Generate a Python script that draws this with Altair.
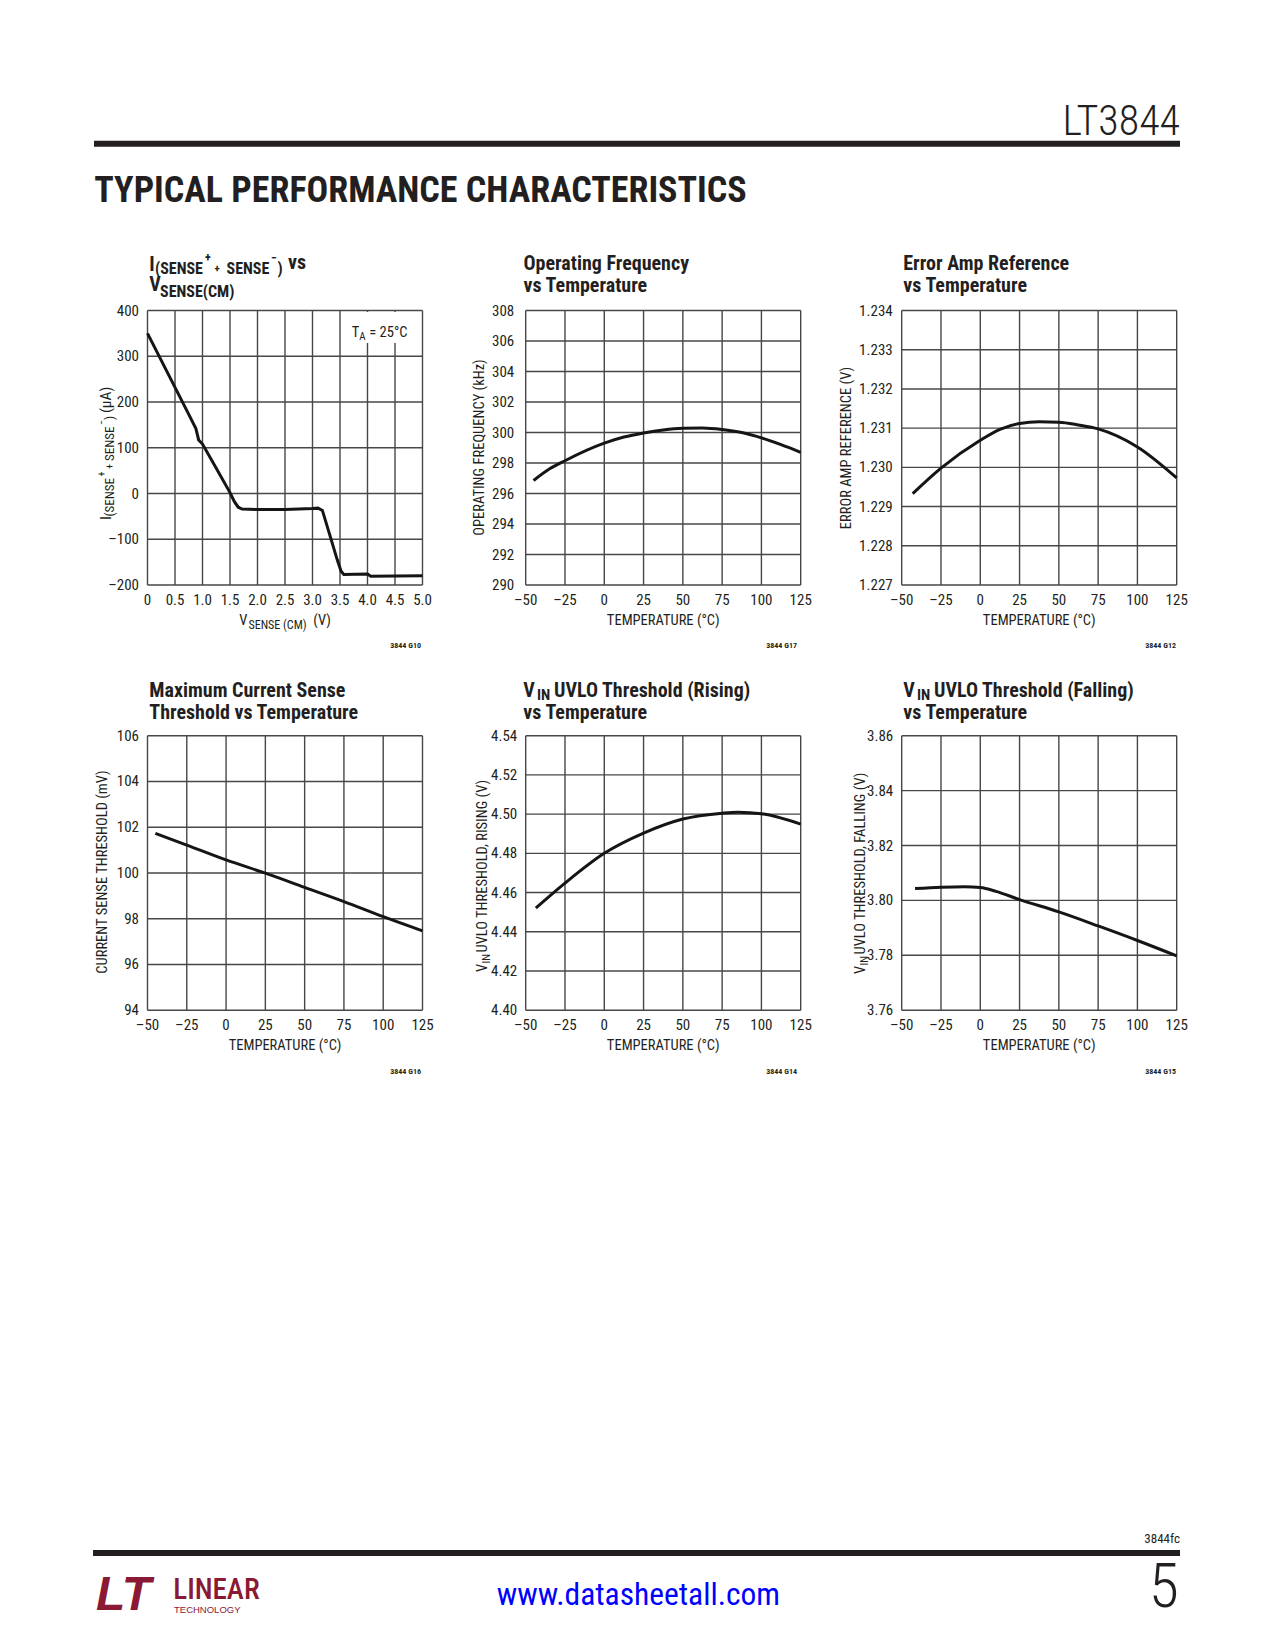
import altair as alt
import pandas as pd

FONT = "Roboto Condensed, Liberation Sans, sans-serif"
WIDE = "Liberation Sans, Arial, sans-serif"
INK = "#231f20"
GRID = "#474747"
CURVE = "#151515"
LOGO = "#8a1a33"
OFF = 8

# ---------------- data ----------------
SENSE_V = [0, 0.25, 0.5, 0.75, 0.88, 0.93, 1.0, 1.25, 1.5, 1.58, 1.65, 1.72, 2.0, 2.5, 3.0, 3.1, 3.18, 3.3, 3.45, 3.52, 3.57, 4.0, 4.06, 5.0]
SENSE_I = [350, 291, 232, 173, 142, 117, 108, 55, 2, -18, -30, -34, -35, -35, -33, -32, -37, -85, -145, -170, -177, -176, -181, -180]
SENSE_X_TICKS = [0, 0.5, 1.0, 1.5, 2.0, 2.5, 3.0, 3.5, 4.0, 4.5, 5.0]
SENSE_X_LABELS = ["0", "0.5", "1.0", "1.5", "2.0", "2.5", "3.0", "3.5", "4.0", "4.5", "5.0"]
SENSE_Y_TICKS = [-200, -100, 0, 100, 200, 300, 400]
SENSE_Y_LABELS = ["\u2013200", "\u2013100", "0", "100", "200", "300", "400"]

TEMP_TICKS = [-50, -25, 0, 25, 50, 75, 100, 125]
TEMP_LABELS = ["\u201350", "\u201325", "0", "25", "50", "75", "100", "125"]

FREQ_T = [-45, -35, -25, 0, 12.5, 25, 37.5, 50, 62.5, 75, 87.5, 100, 112.5, 125]
FREQ_KHZ = [296.85, 297.6, 298.15, 299.3, 299.7, 299.97, 300.17, 300.28, 300.3, 300.2, 300.0, 299.65, 299.2, 298.7]
FREQ_TICKS = [290, 292, 294, 296, 298, 300, 302, 304, 306, 308]
FREQ_LABELS = ["290", "292", "294", "296", "298", "300", "302", "304", "306", "308"]

REF_T = [-43, -25, 0, 12.5, 25, 37.5, 50, 62.5, 75, 100, 125]
REF_V = [1.22933, 1.22998, 1.23069, 1.23097, 1.23112, 1.23116, 1.23115, 1.23108, 1.23098, 1.23052, 1.22973]
REF_TICKS = [1.227, 1.228, 1.229, 1.230, 1.231, 1.232, 1.233, 1.234]
REF_LABELS = ["1.227", "1.228", "1.229", "1.230", "1.231", "1.232", "1.233", "1.234"]

ILIM_T = [-45, -25, 0, 25, 50, 75, 100, 125]
ILIM_MV = [101.73, 101.22, 100.57, 99.99, 99.37, 98.75, 98.09, 97.47]
ILIM_TICKS = [94, 96, 98, 100, 102, 104, 106]
ILIM_LABELS = ["94", "96", "98", "100", "102", "104", "106"]

UVR_T = [-43.5, -25, 0, 25, 50, 75, 85, 100, 125]
UVR_V = [4.4521, 4.4648, 4.4800, 4.4903, 4.4975, 4.5005, 4.5010, 4.5002, 4.4949]
UVR_TICKS = [4.40, 4.42, 4.44, 4.46, 4.48, 4.50, 4.52, 4.54]
UVR_LABELS = ["4.40", "4.42", "4.44", "4.46", "4.48", "4.50", "4.52", "4.54"]

UVF_T = [-41.5, -25, -10, 0, 10, 25, 50, 75, 100, 125]
UVF_V = [3.8043, 3.8048, 3.8050, 3.8047, 3.8033, 3.8003, 3.7958, 3.7907, 3.7854, 3.7798]
UVF_TICKS = [3.76, 3.78, 3.80, 3.82, 3.84, 3.86]
UVF_LABELS = ["3.76", "3.78", "3.80", "3.82", "3.84", "3.86"]

ONE = pd.DataFrame({"k": [0]})
PW, PH = 275, 274.5


def txt(s, x, y, size=14.5, weight="normal", align="left", baseline="alphabetic",
        angle=0, color=INK, font=FONT, italic=False):
    kw = dict(text=s, font=font, fontSize=size, fontWeight=weight, align=align,
              baseline=baseline, angle=angle, color=color)
    if italic:
        kw["fontStyle"] = "italic"
    return alt.Chart(ONE).mark_text(**kw).encode(x=alt.value(x - OFF), y=alt.value(y - OFF))


def hrule(x1, x2, y, w, color=INK):
    return alt.Chart(ONE).mark_rule(color=color, strokeWidth=w).encode(
        x=alt.value(x1 - OFF), x2=alt.value(x2 - OFF), y=alt.value(y - OFF))


def panel(left, top, xdom, ydom, xticks, xlabels, yticks, ylabels, xs, ys, interp, ygap=8.8):
    L, T = left - OFF, top - OFF
    R, B = L + PW, T + PH
    xsc = alt.Scale(domain=xdom, range=[L, R], nice=False, zero=False)
    ysc = alt.Scale(domain=ydom, range=[B, T], nice=False, zero=False)
    vg = alt.Chart(pd.DataFrame({"v": xticks})).mark_rule(color=GRID, strokeWidth=1.4).encode(
        x=alt.X("v:Q", scale=xsc, axis=None), y=alt.value(T), y2=alt.value(B))
    hg = alt.Chart(pd.DataFrame({"v": yticks})).mark_rule(color=GRID, strokeWidth=1.4).encode(
        y=alt.Y("v:Q", scale=ysc, axis=None), x=alt.value(L), x2=alt.value(R))
    xl = alt.Chart(pd.DataFrame({"v": xticks, "t": xlabels})).mark_text(
        font=FONT, fontSize=15, align="center", baseline="middle", color=INK).encode(
        x=alt.X("v:Q", scale=xsc, axis=None), y=alt.value(B + 14.5), text="t:N")
    yl = alt.Chart(pd.DataFrame({"v": yticks, "t": ylabels})).mark_text(
        font=FONT, fontSize=15, align="right", baseline="middle", color=INK).encode(
        y=alt.Y("v:Q", scale=ysc, axis=None), x=alt.value(L - ygap), text="t:N")
    ln = alt.Chart(pd.DataFrame({"x": xs, "y": ys})).mark_line(
        color=CURVE, strokeWidth=3, interpolate=interp).encode(
        x=alt.X("x:Q", scale=xsc, axis=None), y=alt.Y("y:Q", scale=ysc, axis=None))
    return [vg, hg, xl, yl], ln


COLS = [147.5, 525.7, 901.7]
ROWS = [310.5, 735.7]

layers = []
curves = []

specs = [
    (COLS[0], ROWS[0], [0, 5], [-200, 400], SENSE_X_TICKS, SENSE_X_LABELS, SENSE_Y_TICKS, SENSE_Y_LABELS, SENSE_V, SENSE_I, "linear", 8.5),
    (COLS[1], ROWS[0], [-50, 125], [290, 308], TEMP_TICKS, TEMP_LABELS, FREQ_TICKS, FREQ_LABELS, FREQ_T, FREQ_KHZ, "monotone", 11.5),
    (COLS[2], ROWS[0], [-50, 125], [1.227, 1.234], TEMP_TICKS, TEMP_LABELS, REF_TICKS, REF_LABELS, REF_T, REF_V, "monotone", 9),
    (COLS[0], ROWS[1], [-50, 125], [94, 106], TEMP_TICKS, TEMP_LABELS, ILIM_TICKS, ILIM_LABELS, ILIM_T, ILIM_MV, "monotone", 8.5),
    (COLS[1], ROWS[1], [-50, 125], [4.40, 4.54], TEMP_TICKS, TEMP_LABELS, UVR_TICKS, UVR_LABELS, UVR_T, UVR_V, "monotone", 8.5),
    (COLS[2], ROWS[1], [-50, 125], [3.76, 3.86], TEMP_TICKS, TEMP_LABELS, UVF_TICKS, UVF_LABELS, UVF_T, UVF_V, "monotone", 8.5),
]
for sp in specs:
    base, ln = panel(*sp)
    layers += base
    curves.append(ln)

# white patch behind the T_A note (interrupts the grid as in the original)
box = alt.Chart(ONE).mark_rect(color="white").encode(
    x=alt.value(347 - OFF), x2=alt.value(411 - OFF), y=alt.value(312 - OFF), y2=alt.value(343 - OFF))
layers.append(box)
layers += curves

deco = [
    txt("LT3844", 1180, 135, size=42, weight=300, align="right"),
    hrule(94, 1180, 143.7, 6),
    txt("TYPICAL PERFORMANCE CHARACTERISTICS", 94.3, 202, size=36, weight="bold"),
]

TB = 20
deco += [
    txt("I", 149.3, 270.5, size=TB, weight="bold"),
    txt("(SENSE", 155, 273.5, size=16, weight="bold"),
    txt("+", 205, 262, size=12, weight="bold"),
    txt("+", 214.5, 272, size=11, weight="bold"),
    txt("SENSE", 226.5, 273.5, size=16, weight="bold"),
    txt("\u2212", 271, 262, size=12, weight="bold"),
    txt(")", 277.5, 273.5, size=16, weight="bold"),
    txt("vs", 288, 269, size=TB, weight="bold"),
    txt("V", 149.3, 290.5, size=TB, weight="bold"),
    txt("SENSE(CM)", 160, 296.5, size=16, weight="bold"),
    txt("T", 351.7, 336.7, size=14.5),
    txt("A", 359.3, 340, size=11),
    txt("= 25\u00b0C", 369.3, 336.7, size=14.5),
    txt("V", 239.3, 625, size=14.5),
    txt("SENSE (CM)", 248.5, 628.5, size=12),
    txt("(V)", 313.3, 625, size=14.5),
    txt("I", 110.5, 520, size=15.5, angle=270),
    txt("(SENSE", 113.5, 516.5, size=13, angle=270),
    txt("+", 105, 476.5, size=10, angle=270),
    txt("+", 112.5, 469, size=10, angle=270),
    txt("SENSE", 113.5, 461, size=13, angle=270),
    txt("\u2212", 105, 425, size=10, angle=270),
    txt(")", 113.5, 420, size=13, angle=270),
    txt("(\u00b5A)", 110.5, 413, size=15.5, angle=270),
    txt("3844 G10", 421, 648, size=8, weight="bold", align="right"),
]
deco += [
    txt("Operating Frequency", 523.5, 270, size=TB, weight="bold"),
    txt("vs Temperature", 523.5, 292, size=TB, weight="bold"),
    txt("TEMPERATURE (\u00b0C)", 663.2, 621, size=14.5, align="center", baseline="middle"),
    txt("OPERATING FREQUENCY (kHz)", 480, 447.5, size=14.5, angle=270, align="center", baseline="middle"),
    txt("3844 G17", 797, 648, size=8, weight="bold", align="right"),
]
deco += [
    txt("Error Amp Reference", 903.3, 270, size=TB, weight="bold"),
    txt("vs Temperature", 903.3, 292, size=TB, weight="bold"),
    txt("TEMPERATURE (\u00b0C)", 1039.2, 621, size=14.5, align="center", baseline="middle"),
    txt("ERROR AMP REFERENCE (V)", 846.7, 448, size=14.5, angle=270, align="center", baseline="middle"),
    txt("3844 G12", 1176, 648, size=8, weight="bold", align="right"),
]
deco += [
    txt("Maximum Current Sense", 149.3, 696.5, size=TB, weight="bold"),
    txt("Threshold vs Temperature", 149.3, 718.5, size=TB, weight="bold"),
    txt("TEMPERATURE (\u00b0C)", 285, 1046, size=14.5, align="center", baseline="middle"),
    txt("CURRENT SENSE THRESHOLD (mV)", 103, 872, size=14.5, angle=270, align="center", baseline="middle"),
    txt("3844 G16", 421, 1074, size=8, weight="bold", align="right"),
]
deco += [
    txt("V", 523.3, 696.5, size=TB, weight="bold"),
    txt("IN", 537, 700, size=15, weight="bold"),
    txt("UVLO Threshold (Rising)", 554, 696.5, size=TB, weight="bold"),
    txt("vs Temperature", 523.3, 718.5, size=TB, weight="bold"),
    txt("TEMPERATURE (\u00b0C)", 663.2, 1046, size=14.5, align="center", baseline="middle"),
    txt("V", 486.5, 972, size=14.5, angle=270),
    txt("IN", 489.5, 963.5, size=11, angle=270),
    txt("UVLO THRESHOLD, RISING (V)", 486.5, 952.5, size=14.5, angle=270),
    txt("3844 G14", 797, 1074, size=8, weight="bold", align="right"),
]
deco += [
    txt("V", 903.3, 696.5, size=TB, weight="bold"),
    txt("IN", 917, 700, size=15, weight="bold"),
    txt("UVLO Threshold (Falling)", 934, 696.5, size=TB, weight="bold"),
    txt("vs Temperature", 903.3, 718.5, size=TB, weight="bold"),
    txt("TEMPERATURE (\u00b0C)", 1039.2, 1046, size=14.5, align="center", baseline="middle"),
    txt("V", 865, 974, size=14.5, angle=270),
    txt("IN", 868, 965.5, size=11, angle=270),
    txt("UVLO THRESHOLD, FALLING (V)", 865, 954.5, size=14.5, angle=270),
    txt("3844 G15", 1176, 1074, size=8, weight="bold", align="right"),
]
deco += [
    txt("3844fc", 1180, 1543, size=13, align="right"),
    hrule(93, 1180, 1553, 6),
    txt("LT", 96, 1610, size=48, weight="bold", italic=True, color=LOGO, font=WIDE),
    txt("LINEAR", 173.3, 1599, size=29, weight=500, color=LOGO),
    txt("TECHNOLOGY", 174, 1613, size=9.5, color=LOGO, font=WIDE),
    txt("www.datasheetall.com", 638.4, 1605, size=31.5, align="center", color="#0000ff"),
    txt("5", 1179, 1607, size=62, weight=300, align="right"),
]

layers += deco

chart = alt.layer(*layers).resolve_scale(x="independent", y="independent").properties(
    width=1259, height=1634, autosize="none", padding=0
).configure_view(stroke=None)

chart.save("out.html", embed_options={"renderer": "svg", "actions": False})
